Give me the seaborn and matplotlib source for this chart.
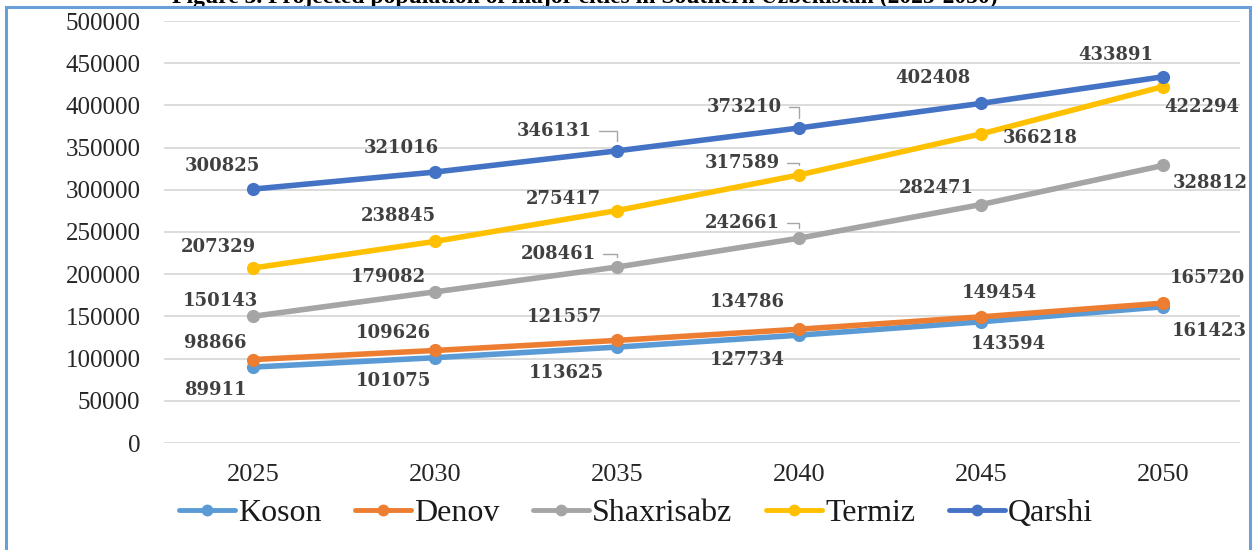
import matplotlib
matplotlib.use("Agg")
import matplotlib.pyplot as plt
import matplotlib.patches as mpatches
import seaborn as sns
import pandas as pd

# ---------------- data ----------------
years = [2025, 2030, 2035, 2040, 2045, 2050]
cities = ["Koson", "Denov", "Shaxrisabz", "Termiz", "Qarshi"]
koson = [89911, 101075, 113625, 127734, 143594, 161423]
denov = [98866, 109626, 121557, 134786, 149454, 165720]
shaxrisabz = [150143, 179082, 208461, 242661, 282471, 328812]
termiz = [207329, 238845, 275417, 317589, 366218, 422294]
qarshi = [300825, 321016, 346131, 373210, 402408, 433891]
y_ticks = [0, 50000, 100000, 150000, 200000, 250000, 300000, 350000, 400000, 450000, 500000]
title = "Figure 3. Projected population of major cities in Southern Uzbekistan (2025-2050)"

series = {"Koson": koson, "Denov": denov, "Shaxrisabz": shaxrisabz,
          "Termiz": termiz, "Qarshi": qarshi}

# ---------------- styling ----------------
palette = {"Koson": "#5B9BD5", "Denov": "#ED7D31", "Shaxrisabz": "#A5A5A5",
           "Termiz": "#FFC000", "Qarshi": "#4472C4"}

# data label offsets in pixels (dx right, dy down) and leader-line flags
label_offsets = {
    "Qarshi":     [(-31, -23), (-34, -24), (-63, -20), (-55, -21), (-48, -25), (-47, -22)],
    "Termiz":     [(-35, -21), (-37, -25), (-54, -12), (-57, -12), (59, 4), (39, 20)],
    "Shaxrisabz": [(-33, -15), (-47, -15), (-59, -13), (-57, -15), (-45, -17), (47, 18)],
    "Denov":      [(-38, -17), (-42, -17), (-53, -23), (-52, -27), (18, -24), (44, -25)],
    "Koson":      [(-38, 23), (-42, 23), (-51, 26), (-52, 25), (27, 22), (46, 24)],
}
leaders = {
    "Qarshi": [2, 3], "Termiz": [3], "Shaxrisabz": [2, 3], "Denov": [], "Koson": [],
}

sns.set_theme(style="white")
plt.rcParams["font.family"] = ["Liberation Serif", "DejaVu Serif"]

W, H = 1253, 550
fig = plt.figure(figsize=(W / 100, H / 100), dpi=100)
fig.patch.set_facecolor("white")

ax_left, ax_right, ax_top, ax_bot = 164, 1240, 21, 443
ax = fig.add_axes([ax_left / W, (H - ax_bot) / H, (ax_right - ax_left) / W, (ax_bot - ax_top) / H])

df = pd.DataFrame([
    {"year": yr, "city": c, "value": v}
    for c in cities for yr, v in zip(years, series[c])
])

sns.lineplot(data=df, x="year", y="value", hue="city", hue_order=cities,
             palette=palette, marker="o", markersize=9.5, markeredgewidth=0,
             linewidth=4.0, ax=ax, legend=True, zorder=3)

# axes limits: 2025 at x=253 px, 2050 at x=1163 px
px_per_year = (1163 - 253) / 25
ax.set_xlim(2025 - (253 - ax_left) / px_per_year, 2050 + (ax_right - 1163) / px_per_year)
ax.set_ylim(0, 500000)
ax.set_xticks(years)
ax.set_xticklabels([str(y) for y in years])
ax.set_yticks(y_ticks)
ax.set_yticklabels([str(t) for t in y_ticks])
ax.tick_params(axis="y", length=0, pad=17, labelsize=18, labelcolor="#262626")
ax.tick_params(axis="x", length=0, pad=15, labelsize=19, labelcolor="#262626")
ax.set_xlabel("")
ax.set_ylabel("")
ax.grid(axis="y", color="#D9D9D9", linewidth=1.3, zorder=0)
ax.grid(axis="x", visible=False)
for s in ax.spines.values():
    s.set_visible(False)
ax.set_facecolor("none")
ax.set_axisbelow(True)

# data labels
for c in cities:
    for i, (yr, v) in enumerate(zip(years, series[c])):
        dx, dy = label_offsets[c][i]
        kw = {}
        if i in leaders[c]:
            kw["arrowprops"] = dict(arrowstyle="-", color="#A6A6A6", lw=1.0,
                                    connectionstyle="angle,angleA=0,angleB=90,rad=0",
                                    relpos=(1, 0.5), shrinkA=3, shrinkB=7)
        ax.annotate(str(v), xy=(yr, v), xytext=(dx, -dy), textcoords="offset pixels",
                    ha="center", va="center", fontsize=13, fontweight="bold",
                    family="DejaVu Serif", color="#404040", zorder=5,
                    annotation_clip=False, **kw)

# legend
handles, labels = ax.get_legend_handles_labels()
ax.get_legend().remove()
leg = fig.legend(handles, labels, loc="center", bbox_to_anchor=(636 / W, 1 - 513 / H),
                 ncol=5, frameon=False, prop={"family": "Liberation Serif", "size": 23},
                 handlelength=1.75, handletextpad=0.1, columnspacing=1.05,
                 borderaxespad=0)
for h in leg.legend_handles:
    h.set_linewidth(3.5)
    h.set_markersize(8.5)
for t in leg.get_texts():
    t.set_color("#1a1a1a")

# outer chart border
border = mpatches.Rectangle((6 / W, -0.05), (1250 - 6) / W, 1.05 - 7 / H,
                            transform=fig.transFigure, fill=False,
                            edgecolor="#6A9FD8", linewidth=2.2, zorder=10)
fig.patches.append(border)

# caption above the chart, only its lower part shows (as in the reference)
fig.text(585 / W, 1 - 2.5 / H, title, ha="center", va="baseline",
         fontsize=17, fontweight="bold", family="Liberation Serif", color="black")

fig.savefig("out.png", dpi=100, facecolor="white")
